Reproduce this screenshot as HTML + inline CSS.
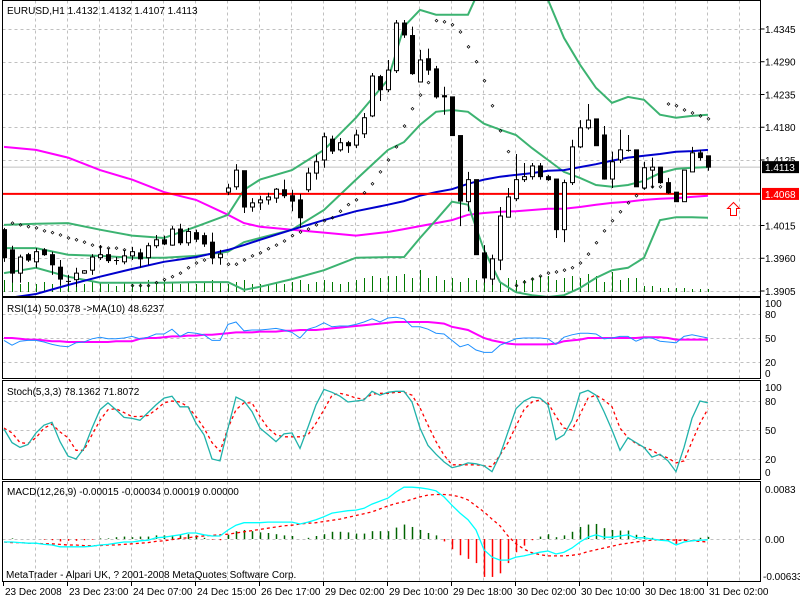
<!DOCTYPE html>
<html><head><meta charset="utf-8"><style>
html,body{margin:0;padding:0;background:#fff;width:800px;height:600px;overflow:hidden}
svg{display:block}
text{font-family:"Liberation Sans",sans-serif;font-size:10px;fill:#000}
</style></head><body>
<svg id="chart" width="800" height="600" xmlns="http://www.w3.org/2000/svg"></svg>
<script>
// ---- price data (EURUSD H1) ----
const opens =[1.4008,1.3974,1.3935,1.3966,1.3954,1.3974,1.3966,1.3945,1.3922,1.3924,1.3935,1.3940,1.3961,1.3966,1.3957,1.3954,1.3964,1.3969,1.3961,1.3981,1.3991,1.3982,1.4009,1.3986,1.4003,1.3998,1.3987,1.3961,1.4071,1.4080,1.4107,1.4046,1.4053,1.4058,1.4061,1.4075,1.4065,1.4058,1.4075,1.4103,1.4125,1.4160,1.4142,1.4154,1.4150,1.4169,1.4199,1.4265,1.4243,1.4275,1.4355,1.4334,1.4256,1.4295,1.4278,1.4233,1.4231,1.4166,1.4055,1.4092,1.3969,1.3925,1.3957,1.4029,1.4060,1.4092,1.4097,1.4115,1.4097,1.4093,1.4008,1.4087,1.4147,1.4179,1.4194,1.4167,1.4093,1.4125,1.4142,1.4142,1.4078,1.4108,1.4113,1.4087,1.4071,1.4055,1.4105,1.4137,1.4132];
const highs =[1.4011,1.3981,1.3966,1.3969,1.3977,1.3977,1.3971,1.3957,1.3932,1.3944,1.3940,1.3967,1.3982,1.3977,1.3962,1.3974,1.3979,1.3976,1.3986,1.3999,1.3998,1.4014,1.4018,1.4011,1.4008,1.4003,1.4003,1.3974,1.4085,1.4118,1.4107,1.4061,1.4065,1.4070,1.4078,1.4092,1.4075,1.4068,1.4112,1.4134,1.4171,1.4166,1.4162,1.4157,1.4176,1.4204,1.4271,1.4268,1.4293,1.4360,1.4360,1.4349,1.4310,1.4312,1.4283,1.4248,1.4231,1.4166,1.4105,1.4092,1.3982,1.3966,1.4046,1.4078,1.4135,1.4120,1.4120,1.4120,1.4100,1.4093,1.4092,1.4159,1.4192,1.4219,1.4194,1.4182,1.4139,1.4176,1.4167,1.4142,1.4122,1.4129,1.4113,1.4095,1.4071,1.4108,1.4147,1.4142,1.4132];
const lows  =[1.3954,1.3919,1.3919,1.3954,1.3944,1.3964,1.3932,1.3915,1.3915,1.3912,1.3934,1.3932,1.3957,1.3952,1.3949,1.3950,1.3957,1.3944,1.3949,1.3977,1.3982,1.3981,1.3982,1.3981,1.3987,1.3979,1.3950,1.3949,1.4066,1.4075,1.4036,1.4038,1.4041,1.4050,1.4053,1.4061,1.4039,1.4011,1.4071,1.4092,1.4112,1.4135,1.4139,1.4137,1.4145,1.4162,1.4197,1.4224,1.4239,1.4271,1.4330,1.4268,1.4256,1.4268,1.4228,1.4201,1.4166,1.4014,1.4039,1.3966,1.3919,1.3915,1.3940,1.4029,1.4056,1.4088,1.4092,1.4092,1.4090,1.3994,1.3987,1.4083,1.4145,1.4176,1.4149,1.4092,1.4078,1.4120,1.4139,1.4080,1.4075,1.4078,1.4085,1.4068,1.4055,1.4055,1.4105,1.4124,1.4107];
const closes=[1.3961,1.3935,1.3962,1.3957,1.3971,1.3966,1.3949,1.3925,1.3922,1.3935,1.3939,1.3962,1.3966,1.3956,1.3957,1.3964,1.3971,1.3959,1.3981,1.3991,1.3984,1.4009,1.3986,1.4005,1.3992,1.3984,1.3961,1.3967,1.4078,1.4108,1.4046,1.4053,1.4058,1.4063,1.4076,1.4065,1.4056,1.4028,1.4103,1.4122,1.4164,1.4140,1.4154,1.4149,1.4167,1.4196,1.4266,1.4243,1.4276,1.4355,1.4335,1.4270,1.4293,1.4276,1.4231,1.4231,1.4166,1.4056,1.4092,1.3966,1.3927,1.3959,1.4031,1.4063,1.4092,1.4097,1.4115,1.4097,1.4092,1.4008,1.4087,1.4147,1.4179,1.4192,1.4149,1.4093,1.4122,1.4142,1.4142,1.4080,1.4112,1.4113,1.4087,1.4070,1.4055,1.4108,1.4137,1.4129,1.4113];
const volumes=[12,12,8,10,8,10,8,10,8,8,8,10,10,8,6,10,8,10,12,10,12,10,8,10,8,10,12,10,8,10,12,8,8,8,10,8,10,12,8,10,12,10,8,10,12,14,16,14,16,16,18,14,22,14,16,12,14,10,14,12,14,14,10,14,12,12,14,16,16,12,14,16,14,18,16,10,20,12,14,14,6,6,4,4,4,4,3,3,3];
// indicator lines sampled at candle indices, values in pips above 1.3900
const bandIdx=[0,4,8,12,16,20,24,28,30,32,36,40,44,48,50,52,54,56,58,60,62,64,66,68,70,72,74,76,78,80,82,84,86,88];
const upperBandPips=[116,118,119,108,98,94,113,133,175,192,208,242,296,360,449,477,469,469,469,528,561,561,528,494,430,385,346,321,331,326,301,296,299,301];
const middleBandPips=[77,77,66,64,61,61,64,71,87,94,108,141,192,242,255,284,306,309,306,286,276,267,245,225,205,195,183,180,183,190,203,210,212,213];
const lowerBandPips=[35,44,29,19,19,19,20,20,7,12,25,40,61,62,62,94,124,155,150,74,20,3,-2,-5,-2,10,27,40,44,61,124,129,129,128];
const maBluePips=[-8,0,15,29,42,54,62,74,82,91,108,124,139,150,156,165,171,176,185,192,197,200,203,207,208,213,218,224,229,232,235,239,240,242];
const maMagentaPips=[247,242,229,208,192,171,158,133,119,113,108,103,98,104,109,114,119,124,133,136,138,139,141,143,143,146,150,153,155,158,160,161,163,165];
const sarPips=[null,119,116,113,111,106,103,99,94,91,87,82,79,77,77,74,14,14,14,19,24,29,35,44,52,57,61,null,50,50,57,64,69,76,82,89,98,104,109,116,123,128,139,150,158,170,185,205,225,247,282,311,334,355,459,457,452,440,415,390,358,316,274,239,14,20,25,30,35,37,40,44,52,67,86,106,123,138,153,165,178,180,180,319,316,309,304,299,294];
// RSI
const rsiValues=[47,41,46,47,47,45,42,40,39,44,45,49,51,49,49,50,52,49,51,55,55,61,52,57,56,54,47,47,67,70,59,60,60,61,62,60,57,50,61,64,69,64,65,65,67,70,74,70,75,76,74,64,64,61,56,55,47,39,42,35,32,32,41,45,49,50,50,50,49,42,51,54,56,56,55,49,50,52,52,46,50,50,46,45,44,52,54,52,50];
const rsiMaValues=[50,50,49,48,48,47,46,46,45,45,45,45,45,45,46,46,46,49,50,50,51,52,52,53,53,54,54,55,56,57,57,57,58,58,58,59,59,60,60,60,61,62,63,64,65,66,67,68,69,70,70,70,70,70,69,68,64,62,60,55,50,47,45,43,42,42,42,42,42,43,46,47,48,50,50,50,50,50,50,50,51,51,51,50,48,48,48,48,48];
// Stochastic
const stochMain=[51,37,32,35,47,55,58,38,23,20,31,52,71,78,71,63,62,60,68,76,83,85,74,74,57,45,20,18,52,84,80,69,52,45,38,46,47,31,53,76,92,89,85,79,80,81,90,86,89,90,90,79,52,34,25,17,11,13,16,15,13,7,24,48,72,80,84,83,76,40,45,60,88,91,86,69,50,29,42,37,32,22,25,18,7,32,62,80,78];
const stochSignal=[52,47,37,36,42,52,56,48,42,29,29,45,60,71,72,68,64,64,65,71,78,80,79,74,64,52,37,28,52,71,78,78,64,52,45,43,43,43,45,57,71,86,88,86,83,82,87,88,88,89,89,86,73,55,38,24,14,14,14,14,13,12,24,37,54,71,79,81,78,64,52,50,66,83,86,81,74,52,42,36,32,29,24,21,16,18,38,57,72];
// MACD (units of 0.001)
const macdMain=[-0.5,-0.5,-0.6,-0.7,-0.7,-0.9,-1.0,-1.3,-1.3,-1.3,-1.3,-1.2,-1.0,-0.9,-0.7,-0.5,-0.5,-0.3,-0.2,0.2,0.3,0.5,0.7,1.0,1.0,0.7,0.5,0.5,1.5,2.3,2.7,2.7,2.7,2.8,2.8,2.8,2.8,2.5,2.8,3.2,3.7,4.3,4.5,4.7,4.8,5.1,5.8,6.3,6.8,7.8,8.6,8.6,8.5,8.3,8.0,7.0,5.6,4.3,3.2,1.5,-1.8,-3.0,-3.5,-3.5,-3.0,-2.8,-2.5,-2.2,-2.0,-2.5,-2.2,-1.5,-0.5,0.3,0.7,0.3,0.3,0.5,0.7,0.2,0.2,0,-0.2,-0.3,-1.0,-0.5,-0.3,-0.2,-0.15];
const macdSignal=[-0.5,-0.6,-0.6,-0.7,-0.7,-0.8,-0.8,-0.9,-1.0,-1.0,-1.1,-1.1,-1.1,-1.0,-1.0,-0.9,-0.8,-0.7,-0.6,-0.4,-0.3,-0.1,0.1,0.2,0.4,0.5,0.6,0.7,0.8,1.0,1.2,1.4,1.6,1.8,2.0,2.2,2.3,2.5,2.6,2.7,2.9,3.1,3.3,3.6,3.9,4.2,4.5,5.0,5.5,5.9,6.2,6.6,7.0,7.3,7.4,7.4,7.3,7.0,6.5,5.5,4.5,3.3,2.2,0.5,-0.8,-1.7,-2.3,-2.6,-2.8,-2.8,-2.8,-2.7,-2.5,-2.1,-1.8,-1.5,-1.2,-0.9,-0.7,-0.5,-0.3,-0.2,-0.1,-0.1,-0.2,-0.2,-0.3,-0.4,-0.5];
// axes
const priceTicks=[1.4345,1.4290,1.4235,1.4180,1.4125,1.4015,1.3960,1.3905];
const priceGrid=[1.4345,1.4290,1.4235,1.4180,1.4125,1.4070,1.4015,1.3960,1.3905];
const rsiTicks=[100,80,50,20,0];
const stochTicks=[100,80,50,20,0];
const dateLabels=["23 Dec 2008","23 Dec 23:00","24 Dec 07:00","24 Dec 15:00","26 Dec 17:00","29 Dec 02:00","29 Dec 10:00","29 Dec 18:00","30 Dec 02:00","30 Dec 10:00","30 Dec 18:00","31 Dec 02:00"];
const lastPrice=1.4113, alertPrice=1.4068;

const NS="http://www.w3.org/2000/svg";
const svg=document.getElementById('chart');
function el(tag,attrs,parent){const e=document.createElementNS(NS,tag);for(const k in attrs)e.setAttribute(k,attrs[k]);(parent||svg).appendChild(e);return e;}
function xOf(i){return 4+8*i;}
function yP(p){return 291-(p-1.3905)*5955;}
function yPip(v){return yP(1.39+v/10000);}
function yRsi(v){return 338-(v-50)*0.8;}
function ySt(v){return 430-(v-50)*0.967;}
function yMacd(v){return 539-v*6.02;}
const L=2.5,R=760.5;
const panels=[[0.5,296.5],[297.5,378.5],[380.5,479.5],[481.5,581.5]];
const defs=el('defs',{});
panels.forEach((p,k)=>{const c=el('clipPath',{id:'clip'+k},defs);el('rect',{x:L,y:p[0],width:R-L,height:p[1]-p[0]},c);});

// grid
const grid=el('g',{stroke:'#c0c0c0','stroke-dasharray':'3,3','stroke-width':1});


for(let x=35.5;x<R;x+=32){panels.forEach(p=>el('line',{x1:x,x2:x,y1:p[0],y2:p[1]},grid));}
priceGrid.forEach(p=>{const y=Math.round(yP(p))+0.5;el('line',{x1:L,x2:R,y1:y,y2:y},grid);});
[80,50,20].forEach(v=>{let y=Math.round(yRsi(v))+0.5;el('line',{x1:L,x2:R,y1:y,y2:y},grid);y=Math.round(ySt(v))+0.5;el('line',{x1:L,x2:R,y1:y,y2:y},grid);});
el('line',{x1:L,x2:R,y1:539.5,y2:539.5},grid);

// main panel
const main=el('g',{'clip-path':'url(#clip0)'});


volumes.forEach((v,i)=>{const b=el('line',{x1:xOf(i)+0.5,x2:xOf(i)+0.5,y1:292,y2:292-v,stroke:'#007800','stroke-width':1},main);

});
const lp=el('line',{x1:L,x2:R,y1:yP(lastPrice),y2:yP(lastPrice),stroke:'#c0c0c0'},main);


function poly(vals,idx,yf,attrs,parent,name){let pts=[];vals.forEach((v,k)=>{if(v!==null)pts.push(xOf(idx?idx[k]:k)+','+yf(v).toFixed(1));});
const p=el('polyline',Object.assign({points:pts.join(' '),fill:'none'},attrs),parent);

return p;}
poly(maMagentaPips,bandIdx,yPip,{stroke:'#ff00ff','stroke-width':2},main,'ma-magenta');
poly(upperBandPips,bandIdx,yPip,{stroke:'#3cb371','stroke-width':2},main,'bollinger-upper');
poly(middleBandPips,bandIdx,yPip,{stroke:'#3cb371','stroke-width':2},main,'bollinger-middle');
poly(lowerBandPips,bandIdx,yPip,{stroke:'#3cb371','stroke-width':2},main,'bollinger-lower');
poly(maBluePips,bandIdx,yPip,{stroke:'#0000cd','stroke-width':2},main,'ma-blue');
const al=el('line',{x1:L,x2:R,y1:yP(alertPrice),y2:yP(alertPrice),stroke:'#ff0000','stroke-width':2},main);


sarPips.forEach((v,i)=>{if(v===null)return;const d=el('rect',{x:xOf(i)-0.5,y:yPip(v)-1,width:2,height:2,fill:'none',stroke:'#000','stroke-width':0.7,transform:'rotate(45 '+(xOf(i)+0.5)+' '+yPip(v)+')'},main);

});
opens.forEach((o,i)=>{const c=closes[i],x=xOf(i);const g=el('g',{},main);


el('line',{x1:x+0.5,x2:x+0.5,y1:yP(highs[i]),y2:yP(lows[i]),stroke:'#000'},g);
const top=yP(Math.max(o,c)),bot=yP(Math.min(o,c));
if(Math.abs(bot-top)<1){el('line',{x1:x-2,x2:x+3,y1:top+0.5,y2:top+0.5,stroke:'#000'},g);}
else el('rect',{x:x-1.5,y:top,width:4,height:bot-top,fill:c>=o?'#fff':'#000',stroke:'#000'},g);});
const arr=el('path',{d:'M733.5,202.5 L739.5,208.5 L736.5,208.5 L736.5,215.5 L730.5,215.5 L730.5,208.5 L727.5,208.5 Z',fill:'#fff',stroke:'#ff0000'});



// RSI
const rsiG=el('g',{'clip-path':'url(#clip1)'});


poly(rsiMaValues,null,yRsi,{stroke:'#ff00ff','stroke-width':2},rsiG,'rsi-ma-line');
poly(rsiValues,null,yRsi,{stroke:'#1e90ff','stroke-width':1},rsiG,'rsi-line');
// Stoch
const stG=el('g',{'clip-path':'url(#clip2)'});


poly(stochSignal,null,ySt,{stroke:'#ff0000','stroke-width':1.3,'stroke-dasharray':'3,3'},stG,'stoch-signal-line');
poly(stochMain,null,ySt,{stroke:'#20b2aa','stroke-width':1.3},stG,'stoch-main-line');
// MACD
const mG=el('g',{'clip-path':'url(#clip3)'});


macdMain.forEach((m,i)=>{const h=m-macdSignal[i];const b=el('line',{x1:xOf(i)+0.5,x2:xOf(i)+0.5,y1:yMacd(0),y2:yMacd(h),stroke:h>=0?'#006400':'#ff0000','stroke-width':1.5},mG);

});
poly(macdSignal,null,yMacd,{stroke:'#ff0000','stroke-width':1.3,'stroke-dasharray':'3,3'},mG,'macd-signal-line');
poly(macdMain,null,yMacd,{stroke:'#00ffff','stroke-width':1.3},mG,'macd-main-line');

panels.forEach(p=>{const f=el('rect',{x:L,y:p[0],width:R-L,height:p[1]-p[0],fill:'none',stroke:'#000'});

});

function txt(s,x,y,name,attrs){const t=el('text',Object.assign({x:x,y:y},attrs||{}));t.textContent=s;

return t;}
priceTicks.forEach(p=>{const y=yP(p);el('line',{x1:R,x2:R+4,y1:y,y2:y,stroke:'#000'});txt(p.toFixed(4),765,y+4,'price-tick-label');});
el('rect',{x:762,y:yP(lastPrice)-6,width:37,height:12,fill:'#000'});
txt(lastPrice.toFixed(4),765,yP(lastPrice)+4,'last-price-label',{style:'fill:#fff'});
el('rect',{x:762,y:yP(alertPrice)-6,width:37,height:12,fill:'#ff0000'});
txt(alertPrice.toFixed(4),765,yP(alertPrice)+4,'alert-price-label',{style:'fill:#fff'});
rsiTicks.forEach(v=>{let y=yRsi(v);if(v===100)y=303;if(v===0)y=373;txt(String(v),765,y+4,'rsi-tick-label');});
stochTicks.forEach(v=>{let y=ySt(v);if(v===100)y=387;if(v===0)y=472;txt(String(v),765,y+4,'stoch-tick-label');});
txt('0.0083',765,493,'macd-tick-label');txt('0.00',765,543,'macd-tick-label');txt('-0.00633',763,580,'macd-tick-label');
dateLabels.forEach((s,k)=>{const x=3+64*k;el('line',{x1:x+0.5,x2:x+0.5,y1:582,y2:586,stroke:'#000'});txt(s,x+2,595,'date-label');});
txt('EURUSD,H1  1.4132 1.4132 1.4107 1.4113',7,14,'chart-title');
txt('RSI(14) 50.0378  ->MA(10) 48.6237',7,312,'rsi-title');
txt('Stoch(5,3,3) 78.1362 71.8072',7,395,'stoch-title');
txt('MACD(12,26,9) -0.00015 -0.00034 0.00019 0.00000',7,495,'macd-title');
txt('MetaTrader - Alpari UK, ? 2001-2008 MetaQuotes Software Corp.',6,578,'copyright-text');
</script>
</body></html>
